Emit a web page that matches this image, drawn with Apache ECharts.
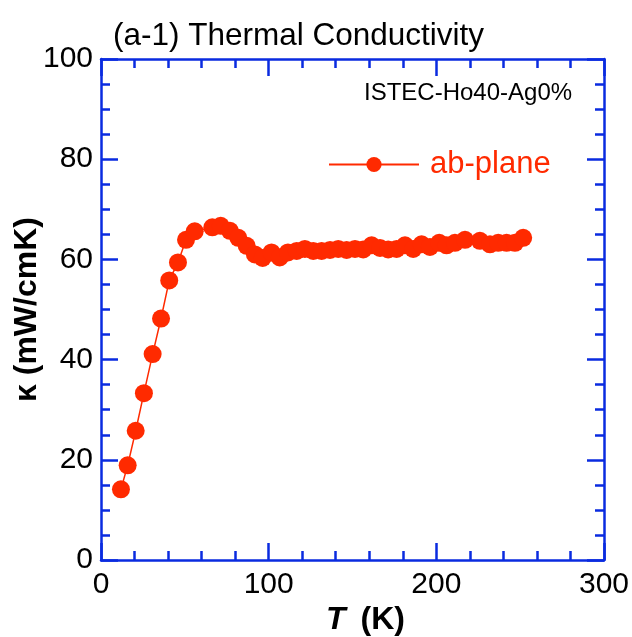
<!DOCTYPE html>
<html><head><meta charset="utf-8">
<script src="https://cdn.jsdelivr.net/npm/echarts@6/dist/echarts.min.js"></script>
<style>html,body{margin:0;padding:0;background:#fff}#c{width:632px;height:637px}</style>
</head><body><div id="c"></div>
<script>
const temperatureK = [11.9,15.9,20.7,25.6,30.8,35.8,40.7,45.9,50.7,55.9,66.4,71.4,76.9,81.9,86.9,91.8,96.4,101.7,106.6,111.5,116.7,121.6,126.6,131.6,136.6,141.5,146.5,151.5,156.4,161.4,166.4,171.3,176.3,181.3,186.2,191.2,196.2,201.7,206.1,211.1,217.1,226.0,232.0,236.9,241.9,246.9,251.8];
const kappaAB = [14.1,18.9,25.8,33.3,41.1,48.2,55.8,59.4,63.9,65.6,66.4,66.7,65.7,64.3,62.7,61.0,60.3,61.4,60.4,61.4,61.7,62.1,61.7,61.7,61.9,62.1,61.9,62.1,62.0,62.8,62.3,62.0,62.1,62.8,62.1,63.0,62.5,63.3,62.8,63.3,63.9,63.7,63.0,63.3,63.3,63.3,64.3];
const seriesName = 'ab-plane';
const sampleLabel = 'ISTEC-Ho40-Ag0%';
const titleText = '(a-1) Thermal Conductivity';

const AX = '#0a2be0', RED = '#ff2a00';
const FONT = 'Liberation Sans, Arial, Helvetica, sans-serif';
const chart = echarts.init(document.getElementById('c'), null, {renderer:'canvas'});
const baseX = {type:'value', min:0, max:300, interval:100,
  axisLine:{show:true, onZero:false, lineStyle:{color:AX, width:2.5}},
  axisTick:{show:true, inside:true, length:17, lineStyle:{color:AX, width:2.5}},
  minorTick:{show:true, splitNumber:5, length:9, lineStyle:{color:AX, width:2.5}},
  splitLine:{show:false}};
const baseY = {type:'value', min:0, max:100, interval:20,
  axisLine:{show:true, onZero:false, lineStyle:{color:AX, width:2.5}},
  axisTick:{show:true, inside:true, length:17, lineStyle:{color:AX, width:2.5}},
  minorTick:{show:true, splitNumber:4, length:9, lineStyle:{color:AX, width:2.5}},
  splitLine:{show:false}};
chart.setOption({
  animation:false,
  backgroundColor:'#fff',
  title:{text:titleText, left:108, top:15, textStyle:{fontFamily:FONT, fontSize:31.5, fontWeight:'normal', color:'#000'}},
  grid:{left:101, right:28, top:59, bottom:77, containLabel:false, outerBoundsMode:'none'},
  legend:{data:[seriesName], left:323, top:144, itemWidth:90, itemHeight:19, itemGap:9,
    textStyle:{color:RED, fontSize:31, fontFamily:FONT, padding:[0,0,0,6]}},
  xAxis:[
    Object.assign({}, baseX, {position:'bottom',
      axisLabel:{show:true, color:'#000', fontSize:30, fontFamily:FONT, margin:10},
      name:'{t|T}{k|(K)}', nameLocation:'middle', nameGap:44, nameMoveOverlap:false,
      nameTextStyle:{padding:[0,0,0,26], rich:{t:{fontSize:32, fontWeight:'bold', fontStyle:'italic', fontFamily:FONT, color:'#000', padding:[0,15,0,0]},
                           k:{fontSize:32, fontWeight:'bold', fontFamily:FONT, color:'#000'}}}}),
    Object.assign({}, baseX, {position:'top', axisLabel:{show:false}})
  ],
  yAxis:[
    Object.assign({}, baseY, {position:'left',
      axisLabel:{show:true, color:'#000', fontSize:30, fontFamily:FONT, margin:8},
      name:'κ (mW/cmK)', nameLocation:'middle', nameGap:58, nameMoveOverlap:false,
      nameTextStyle:{fontSize:32, fontWeight:'bold', fontFamily:FONT, color:'#000'}}),
    Object.assign({}, baseY, {position:'right', axisLabel:{show:false}})
  ],
  graphic:[{type:'text', left:364, top:81, style:{text:sampleLabel, fontSize:24, fontFamily:FONT, fill:'#000'}}],
  series:[{
    name:seriesName, type:'line', xAxisIndex:0, yAxisIndex:0,
    data: temperatureK.map((t,i)=>[t, kappaAB[i]]),
    symbol:'circle', symbolSize:18,
    lineStyle:{color:RED, width:1.5},
    itemStyle:{color:RED, borderWidth:0}
  }]
});
</script></body></html>
